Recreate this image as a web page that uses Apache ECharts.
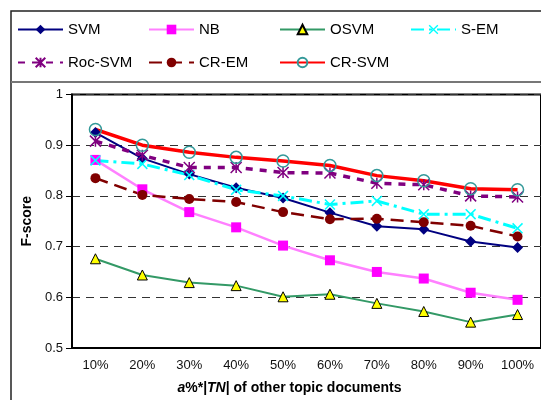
<!DOCTYPE html>
<html lang="en">

<head>
	<meta charset="UTF-8">
	<title>F-score</title>
	<script src="https://cdn.jsdelivr.net/npm/echarts@6/dist/echarts.min.js"></script>
</head>

<body style="margin:0;background:#fff;">
	<div id="main" style="width: 541px;height:400px;"></div>
	<script>
		// data
		var categories = ['10%', '20%', '30%', '40%', '50%', '60%', '70%', '80%', '90%', '100%'];
		var svm    = [0.925, 0.874, 0.843, 0.816, 0.796, 0.767, 0.740, 0.734, 0.710, 0.698];
		var nb     = [0.871, 0.813, 0.768, 0.738, 0.702, 0.673, 0.650, 0.637, 0.609, 0.595];
		var osvm   = [0.676, 0.644, 0.629, 0.623, 0.601, 0.606, 0.588, 0.572, 0.551, 0.566];
		var sem    = [0.870, 0.863, 0.841, 0.812, 0.800, 0.783, 0.790, 0.764, 0.764, 0.736];
		var rocsvm = [0.908, 0.880, 0.856, 0.856, 0.846, 0.845, 0.825, 0.822, 0.800, 0.798];
		var crem   = [0.835, 0.802, 0.794, 0.788, 0.768, 0.754, 0.755, 0.748, 0.741, 0.720];
		var crsvm  = [0.931, 0.900, 0.886, 0.876, 0.869, 0.860, 0.840, 0.830, 0.814, 0.812];

		var font = 'Liberation Sans, Arial, sans-serif';
		var crossPath = 'path://M0,1L1,0L5,4L9,0L10,1L6,5L10,9L9,10L5,6L1,10L0,9L4,5Z';
		var starPath = 'path://M5,0L5,10M0,0L10,10M10,0L0,10';

		var myChart = echarts.init(document.getElementById('main'));

		function leg(name, left, top) {
			return {
				data: [name], left: left, top: top, itemWidth: 45, itemHeight: 12,
				padding: 0, selectedMode: false,
				textStyle: { fontFamily: font, fontSize: 15, color: '#000' }
			};
		}

		var option = {
			animation: false,
			backgroundColor: '#fff',
			legend: [
				leg('SVM', 17, 22), leg('NB', 148, 22), leg('OSVM', 279, 22), leg('S-EM', 410, 22),
				leg('Roc-SVM', 17, 55), leg('CR-EM', 148, 55), leg('CR-SVM', 279, 55)
			],
			graphic: [
				{ type: 'rect', shape: { x: 11, y: 11, width: 600, height: 600 }, style: { fill: 'none', stroke: '#222', lineWidth: 1.5 }, silent: true },
				{ type: 'line', shape: { x1: 11, y1: 82, x2: 541, y2: 82 }, style: { stroke: '#777', lineWidth: 2 }, silent: true }
			],
			grid: {
				left: 72, top: 94.5, right: -6, bottom: 48.5,
				show: true, borderColor: '#000', borderWidth: 2, backgroundColor: '#fff'
			},
			xAxis: {
				type: 'category',
				data: categories,
				boundaryGap: true,
				axisLine: { lineStyle: { color: '#000', width: 2 } },
				axisTick: { length: 5, lineStyle: { color: '#000' } },
				axisLabel: { fontFamily: font, fontSize: 13, color: '#111', margin: 11 },
				nameLocation: 'middle',
				nameGap: 33,
				name: '{bi|a}{b|%*|}{bi|TN}{b|| of other topic documents}',
				nameTextStyle: {
					padding: [0, 34, 0, 0],
					rich: {
						b: { fontFamily: font, fontSize: 14, fontWeight: 'bold', color: '#000' },
						bi: { fontFamily: font, fontSize: 14, fontWeight: 'bold', fontStyle: 'italic', color: '#000' }
					}
				}
			},
			yAxis: {
				type: 'value',
				min: 0.5, max: 1, interval: 0.1,
				name: 'F-score',
				nameLocation: 'middle',
				nameGap: 37,
				nameTextStyle: { fontFamily: font, fontSize: 14, fontWeight: 'bold', color: '#000' },
				axisLine: { show: true, lineStyle: { color: '#000', width: 2 } },
				axisTick: { show: true, length: 6, lineStyle: { color: '#000' } },
				axisLabel: { fontFamily: font, fontSize: 13, color: '#111', margin: 9 },
				splitLine: { lineStyle: { color: '#333', type: [8, 6], width: 1 } }
			},
			series: [
				{
					name: 'SVM', type: 'line', data: svm,
					symbol: 'diamond', symbolSize: 11,
					lineStyle: { color: '#000080', width: 2 },
					itemStyle: { color: '#000080' }
				},
				{
					name: 'NB', type: 'line', data: nb,
					symbol: 'rect', symbolSize: 10,
					lineStyle: { color: '#FF80FF', width: 2.5 },
					itemStyle: { color: '#FF00FF' }
				},
				{
					name: 'OSVM', type: 'line', data: osvm,
					symbol: 'triangle', symbolSize: 10,
					lineStyle: { color: '#339966', width: 2 },
					itemStyle: { color: '#FFFF00', borderColor: '#000', borderWidth: 1 }
				},
				{
					name: 'S-EM', type: 'line', data: sem,
					symbol: crossPath, symbolSize: 11,
					lineStyle: { color: '#00FFFF', width: 3, type: [13, 5, 3, 5] },
					itemStyle: { color: '#00FFFF' }
				},
				{
					name: 'Roc-SVM', type: 'line', data: rocsvm,
					symbol: starPath, symbolSize: 11,
					lineStyle: { color: '#800080', width: 3.5, type: [7, 7] },
					itemStyle: { color: 'none', borderColor: '#800080', borderWidth: 1.5 }
				},
				{
					name: 'CR-EM', type: 'line', data: crem,
					symbol: 'circle', symbolSize: 10,
					lineStyle: { color: '#800000', width: 2.5, type: [13, 7] },
					itemStyle: { color: '#800000' }
				},
				{
					name: 'CR-SVM', type: 'line', data: crsvm,
					symbol: 'circle', symbolSize: 12,
					lineStyle: { color: '#FF0000', width: 3.5 },
					itemStyle: { color: 'rgba(0,0,0,0)', borderColor: '#339999', borderWidth: 1.5 }
				}
			]
		};

		myChart.setOption(option);
	</script>
</body>

</html>
